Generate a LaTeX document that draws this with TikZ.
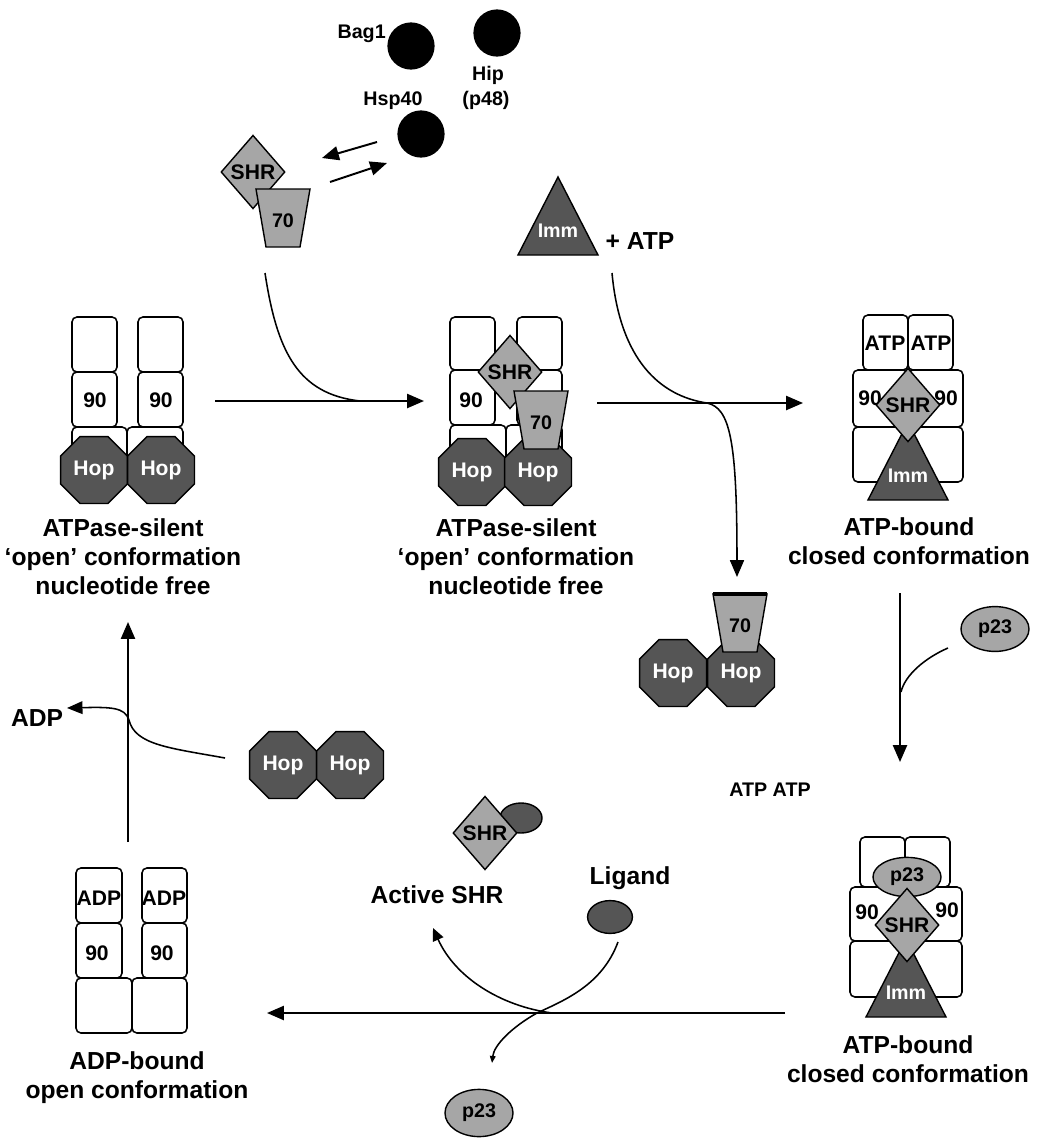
\documentclass[tikz,border=0pt]{standalone}
\usepackage{fontspec}
\setmainfont{Liberation Sans}
\usetikzlibrary{shapes.geometric, arrows.meta}

\definecolor{shrgray}{HTML}{A6A6A6}
\definecolor{hopgray}{HTML}{555555}

\tikzset{
  box/.style = {draw, line width=1.1pt, rounded corners=3.5pt, fill=white},
  tag/.style = {font=\fontsize{14}{16}\selectfont\bfseries, inner sep=0pt},
  midtxt/.style = {font=\fontsize{15}{17}\selectfont\bfseries, inner sep=0pt},
  lbl/.style = {font=\fontsize{17.5}{20.5}\selectfont\bfseries, align=center, inner sep=0pt},
  hop/.style = {regular polygon, regular polygon sides=8, minimum size=1.81cm, inner sep=0pt,
                draw, line width=1pt, fill=hopgray, text=white, midtxt},
  shr/.style = {diamond, minimum width=1.6cm, minimum height=1.84cm, inner sep=0pt,
                draw, line width=1pt, fill=shrgray, midtxt},
  p23/.style = {ellipse, minimum width=1.7cm, minimum height=1.12cm, inner sep=0pt,
                draw, line width=1pt, fill=shrgray, tag},
  chap/.style = {circle, minimum size=1.18cm, inner sep=0pt, fill=black},
  lig/.style = {ellipse, minimum width=1.12cm, minimum height=0.82cm, inner sep=0pt,
                draw, line width=1pt, fill=hopgray},
  flow/.style = {line width=1.4pt, -{Triangle[length=12pt, width=10pt]}},
  merge/.style = {line width=1.1pt},
  hsp70/.pic = {
    \draw[line width=1pt, fill=shrgray] (-27,-29) coordinate (-nw) -- (27,-29) coordinate (-ne)
      -- (17,29) -- (-17,29) -- cycle;
    \node[tag] (-txt) at (0,3) {70};
  },
  imm/.pic = {
    \draw[line width=1pt, fill=hopgray] (0,-39) -- (40,39) -- (-40,39) -- cycle;
    \node[tag, text=white] (-txt) at (0,15) {Imm};
  }
}

\begin{document}
\begin{tikzpicture}[x=0.025cm, y=-0.025cm]
  \useasboundingbox (0,0) rectangle (1040,1139);

  % co-chaperones
  \node[chap] (bag1) at (411,46) {};
  \node[chap] (hip) at (497,33) {};
  \node[chap] (hsp40) at (421,134) {};
  \node[tag, anchor=east] (bag1txt) at (386,34) {Bag1};
  \node[tag] (hiptxt) at (488,75) {Hip};
  \node[tag] (p48txt) at (486,100) {(p48)};
  \node[tag] (hsp40txt) at (393,101) {Hsp40};

  % SHR on 70
  \node[shr] (shr0) at (253,172) {SHR};
  \pic (c70) at (283,218) {hsp70};
  \coordinate (xin) at (377,142);
  \coordinate (xinend) at (322,158);
  \coordinate (xout) at (330,182);
  \coordinate (xoutend) at (387,163);
  \draw[flow] (xin) -- (xinend);
  \draw[flow] (xout) -- (xoutend);

  % Imm + ATP
  \pic (imm0) at (558,216) {imm};
  \node[lbl] (plusatp) at (640,241) {+ ATP};

  % state 1
  \draw[box] (72,317) rectangle (117,372);
  \draw[box] (138,317) rectangle (183,372);
  \draw[box] (72,372) rectangle (117,427);
  \draw[box] (138,372) rectangle (183,427);
  \draw[box] (72,427) rectangle (127,482);
  \draw[box] (127,427) rectangle (183,482);
  \node[midtxt] (s1n1) at (95,400) {90};
  \node[midtxt] (s1n2) at (161,400) {90};
  \node[hop] (s1hop1) at (94,470) {Hop};
  \node[hop] (s1hop2) at (161,470) {Hop};
  \node[lbl] (s1txt) at (123,557) {ATPase-silent\\‘open’ conformation\\nucleotide free};

  % state 2
  \draw[box] (450,317) rectangle (495,370);
  \draw[box] (517,317) rectangle (562,370);
  \draw[box] (450,370) rectangle (495,425);
  \draw[box] (517,370) rectangle (562,425);
  \draw[box] (450,425) rectangle (506,480);
  \draw[box] (506,425) rectangle (562,480);
  \node[midtxt] (s2n1) at (471,400) {90};
  \node[hop] (s2hop1) at (472,472) {Hop};
  \node[hop] (s2hop2) at (538,472) {Hop};
  \node[shr] (s2shr) at (510,372) {SHR};
  \pic (s2c70) at (541,420) {hsp70};
  \node[lbl] (s2txt) at (516,557) {ATPase-silent\\‘open’ conformation\\nucleotide free};

  % state 3
  \draw[box] (863,315) rectangle (908,370);
  \draw[box] (908,315) rectangle (953,370);
  \draw[box] (853,370) rectangle (908,427);
  \draw[box] (908,370) rectangle (963,427);
  \draw[box] (853,427) rectangle (908,482);
  \draw[box] (908,427) rectangle (963,482);
  \node[midtxt] (s3atp1) at (885,343) {ATP};
  \node[midtxt] (s3atp2) at (931,343) {ATP};
  \node[midtxt] (s3n1) at (870,398) {90};
  \node[midtxt] (s3n2) at (946,398) {90};
  \pic (s3imm) at (908,461) {imm};
  \node[shr] (s3shr) at (908,405) {SHR};
  \node[lbl] (s3txt) at (909,541) {ATP-bound\\closed conformation};

  % released 70 and Hop
  \node[hop] (rhop1) at (673,673) {Hop};
  \node[hop] (rhop2) at (741,673) {Hop};
  \pic (r70) at (740,623) {hsp70};
  \draw[line width=3.5pt] (r70-nw) -- (r70-ne);

  % state 4
  \draw[box] (860,837) rectangle (905,887);
  \draw[box] (905,837) rectangle (950,887);
  \draw[box] (850,887) rectangle (905,941);
  \draw[box] (905,887) rectangle (962,941);
  \draw[box] (850,941) rectangle (905,997);
  \draw[box] (905,941) rectangle (962,997);
  \node[midtxt] (s4n1) at (867,912) {90};
  \node[midtxt] (s4n2) at (947,910) {90};
  \node[p23, minimum height=0.98cm] (s4p23) at (907,877) {p23};
  \pic (s4imm) at (906,978) {imm};
  \node[shr] (s4shr) at (907,925) {SHR};
  \node[lbl] (s4txt) at (908,1059) {ATP-bound\\closed conformation};
  \node[tag] (atpatp) at (770,790) {ATP ATP};

  % state 5
  \draw[box] (76,868) rectangle (122,923);
  \draw[box] (142,868) rectangle (187,923);
  \draw[box] (76,923) rectangle (122,978);
  \draw[box] (142,923) rectangle (187,978);
  \draw[box] (76,978) rectangle (132,1033);
  \draw[box] (132,978) rectangle (187,1033);
  \node[midtxt] (s5adp1) at (99,898) {ADP};
  \node[midtxt] (s5adp2) at (164,898) {ADP};
  \node[midtxt] (s5n1) at (97,953) {90};
  \node[midtxt] (s5n2) at (162,953) {90};
  \node[lbl] (s5txt) at (137,1078) {ADP-bound\\open conformation};

  % free Hop, ADP
  \node[hop] (fhop1) at (283,765) {Hop};
  \node[hop] (fhop2) at (350,765) {Hop};
  \node[lbl] (adptxt) at (37,718) {ADP};

  % active receptor, ligand, p23
  \node[lig, minimum width=1.05cm, minimum height=0.75cm] (actlig) at (521,818) {};
  \node[shr] (actshr) at (485,833) {SHR};
  \node[lbl] (acttxt) at (437,895) {Active SHR};
  \node[lbl] (ligtxt) at (630,878) {Ligand};
  \node[lig] (lig) at (610,917) {};
  \node[p23, minimum height=1.18cm] (p23out) at (479,1113) {p23};
  \node[p23] (p23in) at (995,629) {p23};

  % cycle arrows
  \coordinate (a1s) at (215,401);
  \coordinate (a1e) at (424,401);
  \coordinate (a2s) at (597,403);
  \coordinate (a2e) at (803,403);
  \coordinate (a3s) at (900,593);
  \coordinate (a3e) at (900,762);
  \coordinate (a4s) at (785,1013);
  \coordinate (a4e) at (267,1013);
  \coordinate (a5s) at (128,842);
  \coordinate (a5e) at (128,622);
  \draw[flow] (a1s) -- (a1e);
  \draw[flow] (a2s) -- (a2e);
  \draw[flow] (a3s) -- (a3e);
  \draw[flow] (a4s) -- (a4e);
  \draw[flow] (a5s) -- (a5e);

  % side branches
  \coordinate (m1) at (265,273);
  \coordinate (m1j) at (360,401);
  \draw[merge] (m1) .. controls (277,352) and (298,394) .. (m1j);
  \coordinate (m2) at (612,273);
  \coordinate (m2j) at (707,403);
  \coordinate (m2e) at (737,577);
  \draw[merge, -{Triangle[length=12pt, width=10pt]}] (m2) .. controls (620,360) and (660,396) .. (m2j)
    .. controls (730,408) and (737,440) .. (m2e);
  \coordinate (m3) at (948,648);
  \coordinate (m3j) at (901,692);
  \draw[merge] (m3) .. controls (925,658) and (905,675) .. (m3j);
  \coordinate (m4) at (225,758);
  \coordinate (m4j) at (129,720);
  \coordinate (m4e) at (67,708);
  \draw[merge, -{Triangle[length=11pt, width=9pt]}] (m4) .. controls (170,748) and (135,745) .. (m4j)
    .. controls (125,707) and (110,707) .. (m4e);
  \coordinate (m5) at (618,942);
  \coordinate (m5x) at (537,1013);
  \coordinate (m5e) at (492,1063);
  \draw[merge, -{Triangle[length=5pt, width=4pt]}] (m5) .. controls (602,985) and (565,1000) .. (m5x)
    .. controls (512,1027) and (494,1045) .. (m5e);
  \coordinate (m6) at (552,1013);
  \coordinate (m6e) at (433,928);
  \draw[merge, -{Triangle[length=9pt, width=8pt]}] (m6) .. controls (500,1006) and (455,977) .. (m6e);
\end{tikzpicture}
\end{document}
